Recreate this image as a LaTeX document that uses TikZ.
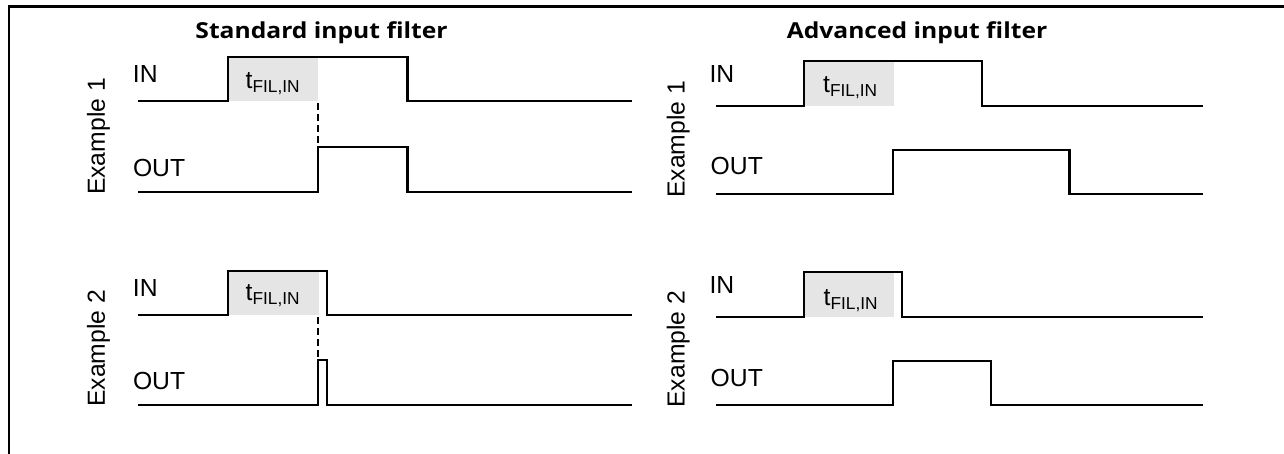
\documentclass[tikz,border=0pt]{standalone}
\usepackage{fontspec}
\setmainfont{Liberation Sans}
\newfontfamily\titlefont{Open Sans}
\newcommand{\ttltext}[1]{\scalebox{1.12}[1]{\titlefont\bfseries\fontsize{22}{26}\selectfont #1}}
\begin{document}
\begin{tikzpicture}[x=1pt,y=-1pt,
  sig/.style={line width=2.3pt,line join=miter},
  frm/.style={line width=2.2pt},
  fil/.style={fill=black!10,draw=none},
  dsh/.style={line width=2.3pt,dash pattern=on 7pt off 4pt},
  lbl/.style={inner sep=0pt,anchor=base west,font=\fontsize{24.7}{29}\selectfont},
  exlbl/.style={inner sep=0pt,anchor=base,rotate=90,font=\fontsize{24.7}{29}\selectfont},
  tfil/.style={inner sep=0pt,anchor=base west,font=\fontsize{24.7}{29}\selectfont},
  ttl/.style={inner sep=0pt,anchor=base}]
\useasboundingbox (0,0) rectangle (1284,454);
% frame
\coordinate (fa) at (9,454);
\coordinate (fb) at (9,6.5);
\coordinate (fc) at (1284,6.5);
\draw[frm] (fa) -- (fb) -- (fc);
% titles
\node[ttl] (t1) at (321.5,38.3) {\ttltext{Standard input filter}};
\node[ttl] (t2) at (917,38.3) {\ttltext{Advanced input filter}};
% example labels
\node[exlbl] (e1) at (104.8,136.5) {Example 1};
\node[exlbl] (e2) at (104.8,348.3) {Example 2};
\node[exlbl] (e3) at (684.5,139.3) {Example 1};
\node[exlbl] (e4) at (684.5,349.2) {Example 2};
% IN/OUT labels
\node[lbl] (in1) at (132.7,82.7) {IN};
\node[lbl] (out1) at (132.8,176.7) {OUT};
\node[lbl] (in2) at (132.7,296) {IN};
\node[lbl] (out2) at (132.8,389) {OUT};
\node[lbl] (in3) at (709.4,82.7) {IN};
\node[lbl] (out3) at (710.5,175) {OUT};
\node[lbl] (in4) at (709.4,293) {IN};
\node[lbl] (out4) at (710.5,386.7) {OUT};
% filter boxes
\fill[fil] (228,57) rectangle (318,101);
\fill[fil] (228,271) rectangle (319,315);
\fill[fil] (804,61) rectangle (894,105.7);
\fill[fil] (804,272) rectangle (894,316.7);
\node[tfil] (f1) at (245.5,88.3) {t\textsubscript{FIL,IN}};
\node[tfil] (f2) at (245.5,300.5) {t\textsubscript{FIL,IN}};
\node[tfil] (f3) at (823,92.7) {t\textsubscript{FIL,IN}};
\node[tfil] (f4) at (823.5,305.5) {t\textsubscript{FIL,IN}};
% Standard, example 1
\draw[sig] (138,101) -- (228,101) -- (228,57) -- (407.5,57) -- (407.5,101) -- (632,101);
\draw[sig] (138,192) -- (318,192) -- (318,146.7) -- (407.5,146.7) -- (407.5,192) -- (632,192);
\draw[dsh] (318,103) -- (318,146);
% Standard, example 2
\draw[sig] (138,315) -- (228,315) -- (228,271) -- (327,271) -- (327,315) -- (632,315);
\draw[sig] (138,405) -- (318,405) -- (318,360) -- (327,360) -- (327,405) -- (632,405);
\draw[dsh] (318,317) -- (318,359);
% Advanced, example 1
\draw[sig] (716,105.7) -- (804,105.7) -- (804,61) -- (982,61) -- (982,105.7) -- (1203,105.7);
\draw[sig] (716,194) -- (893,194) -- (893,150) -- (1069.5,150) -- (1069.5,194) -- (1203,194);
% Advanced, example 2
\draw[sig] (716,316.7) -- (804,316.7) -- (804,272) -- (902,272) -- (902,316.7) -- (1203,316.7);
\draw[sig] (716,405) -- (893,405) -- (893,360.7) -- (991,360.7) -- (991,405) -- (1203,405);
\end{tikzpicture}
\end{document}
